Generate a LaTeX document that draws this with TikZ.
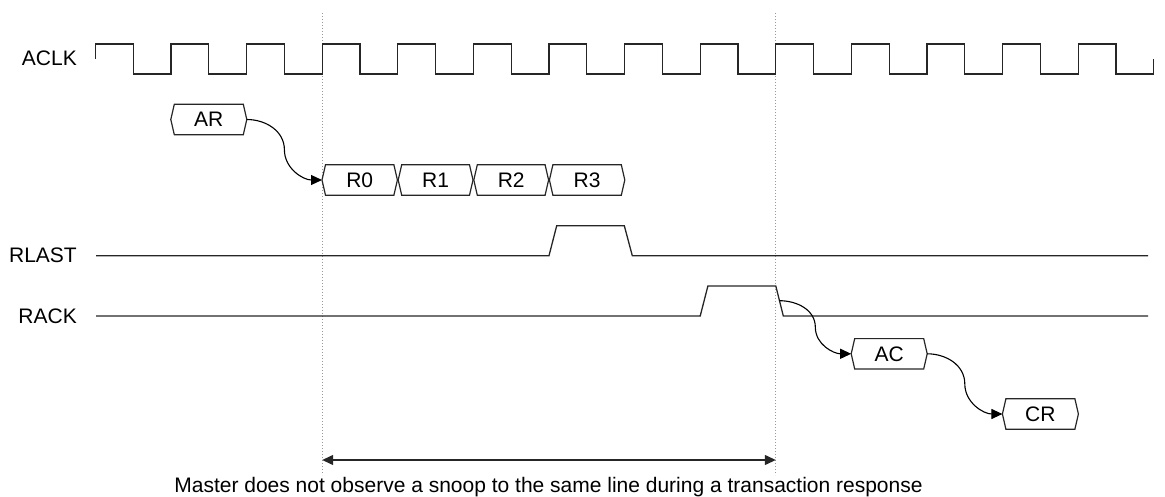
\documentclass[tikz,border=0pt]{standalone}
\usepackage{fontspec}
\setmainfont{Liberation Sans}
\usetikzlibrary{arrows.meta,calc}
\tikzset{
  wave/.style={line width=1.3pt, draw=black!85, line join=miter},
  busline/.style={line width=1.2pt, draw=black!85, line join=miter},
  busbox/.style={rectangle, inner sep=0pt, minimum height=30pt},
  lbl/.style={inner sep=0pt, anchor=east},
  conn/.style={line width=1.1pt, draw=black, -{Triangle[length=11pt,width=10pt]}},
  guide/.style={draw=black!40, line width=1pt, dash pattern=on 1.2pt off 1.8pt},
  span/.style={line width=1.3pt, draw=black!85, {Triangle[length=11pt,width=10pt]}-{Triangle[length=11pt,width=10pt]}},
}
\newcommand\busnode[5]{%
  \pgfmathsetmacro\bw{#3-#2-7}%
  \pgfmathsetmacro\bx{(#2+#3)/2}%
  \node[busbox, minimum width=\bw pt] (#1) at (\bx,#4) {#5};
  \coordinate (#1-l) at ([xshift=-3.5pt]#1.west);
  \coordinate (#1-r) at ([xshift=3.5pt]#1.east);
  \draw[busline] (#1.north west) -- (#1.north east) -- (#1-r) -- (#1.south east)
     -- (#1.south west) -- (#1-l) -- cycle;
}
\begin{document}
\begin{tikzpicture}[x=1pt, y=-1pt, font=\fontsize{21}{25}\selectfont]
\useasboundingbox (0,0) rectangle (1165,497);

% guide lines
\coordinate (g1t) at (322.2,13);
\coordinate (g1b) at (322.2,475);
\coordinate (g2t) at (775.8,13);
\coordinate (g2b) at (775.8,475);
\draw[guide] (g1t) -- (g1b);
\draw[guide] (g2t) -- (g2b);

% labels
\node[lbl] (aclk) at (77,58.7) {ACLK};
\node[lbl] (rlast) at (77,255.2) {RLAST};
\node[lbl] (rack) at (77,316.5) {RACK};

% clock
\draw[wave] (95.4,59) -- (95.4,44)
  \foreach \k in {0,...,12} { -- ++(37.8,0) -- ++(0,30) -- ++(37.8,0) -- ++(0,-30) }
  -- ++(37.8,0) -- ++(0,30) -- ++(37.8,0) -- ++(0,-15);

% RLAST
\draw[wave] (96,255.7) -- (549,255.7) -- (556.7,225.7) -- (624.3,225.7)
  -- (632.3,255.7) -- (1148,255.7);

% RACK
\coordinate (rf1) at (775.8,286);
\coordinate (rf2) at (783.3,316);
\draw[wave] (96,316) -- (700.2,316) -- (707.9,286) -- (rf1) -- (rf2) -- (1148,316);
\coordinate (rfm) at ($(rf1)!0.49!(rf2)$);

% buses
\busnode{AR}{171.0}{246.6}{119.5}{AR}
\busnode{R0}{322.2}{397.2}{180}{R0}
\busnode{R1}{398.4}{472.8}{180}{R1}
\busnode{R2}{474.0}{548.4}{180}{R2}
\busnode{R3}{549.6}{624.6}{180}{R3}
\busnode{AC}{851.4}{927.0}{353.8}{AC}
\busnode{CR}{1002.6}{1078.2}{414}{CR}

% connectors
\draw[conn] (AR-r) to[out=0,in=90] ($(AR-r)!0.5!(R0-l)$) to[out=-90,in=180] (R0-l);
\draw[conn] (rfm) to[out=0,in=90] ($(rfm)!0.5!(AC-l)$) to[out=-90,in=180] (AC-l);
\draw[conn] (AC-r) to[out=0,in=90] ($(AC-r)!0.5!(CR-l)$) to[out=-90,in=180] (CR-l);

% span arrow
\coordinate (sl) at (322.2,460);
\coordinate (sr) at (775.8,460);
\draw[span] (sl) -- (sr);
\node[inner sep=0pt, anchor=base] (note) at (548.5,492)
  {Master does not observe a snoop to the same line during a transaction response};
\end{tikzpicture}
\end{document}
